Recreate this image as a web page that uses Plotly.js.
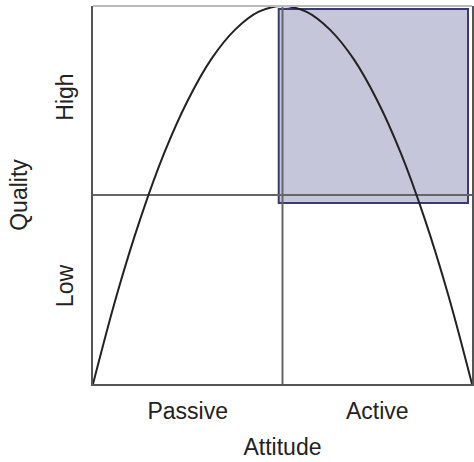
<!DOCTYPE html>
<html>
<head>
<meta charset="utf-8">
<script src="https://cdn.plot.ly/plotly-3.0.1.min.js"></script>
<style>html,body{margin:0;padding:0;background:#fff;}#chart{width:474px;height:462px;}</style>
</head>
<body>
<div id="chart"></div>
<script>
// Curve points (attitude vs quality)
const curveX = [0, 0.125, 0.25, 0.375, 0.5, 0.625, 0.75, 0.875, 1, 1.125, 1.25, 1.375, 1.5, 1.625, 1.75, 1.875, 2];
const curveY = [0, 0.47, 0.875, 1.22, 1.5, 1.72, 1.875, 1.97, 2, 1.97, 1.875, 1.72, 1.5, 1.22, 0.875, 0.47, 0];
// Axis category labels
const xTickVals = [0.5, 1.5];
const xTickText = ['Passive', 'Active'];
const yTickVals = [0.5, 1.5];
const yTickText = ['Low', 'High'];
// Divider positions and highlighted region
const xDivider = 1;
const yDivider = 1;
const boxX = [0.98, 1.979];
const boxY = [0.958, 1.984];

const font = {family: 'Liberation Sans, Arial, sans-serif', size: 23, color: '#222'};

Plotly.newPlot('chart', [{
  x: curveX, y: curveY, type: 'scatter', mode: 'lines',
  line: {color: '#222', width: 2, shape: 'spline', smoothing: 1},
  hoverinfo: 'none', showlegend: false
}], {
  width: 474, height: 462,
  margin: {l: 93, r: 2, t: 6, b: 78},
  paper_bgcolor: '#fff', plot_bgcolor: '#fff',
  font: font,
  xaxis: {
    range: [0, 2], showgrid: false, zeroline: false,
    showline: true, linecolor: '#555', linewidth: 2, mirror: false,
    tickvals: xTickVals, ticktext: xTickText, ticks: '', ticklabelstandoff: 5,
    tickfont: font,
    title: {text: 'Attitude', font: font, standoff: 16}
  },
  yaxis: {
    range: [0, 2], showgrid: false, zeroline: false,
    showline: true, linecolor: '#555', linewidth: 2, mirror: true,
    tickvals: yTickVals, ticktext: yTickText, ticks: '', tickangle: -90, ticklabelstandoff: 9,
    tickfont: font,
    title: {text: 'Quality', font: font, standoff: 18}
  },
  shapes: [
    {type: 'rect', layer: 'below', xref: 'x', yref: 'y', x0: boxX[0], x1: boxX[1], y0: boxY[0], y1: boxY[1],
     fillcolor: '#c6c6da', line: {color: '#3a3a6e', width: 2}},
    {type: 'line', layer: 'below', xref: 'x', yref: 'y', x0: xDivider, x1: xDivider, y0: 0, y1: 2,
     line: {color: '#666', width: 2}},
    {type: 'line', layer: 'below', xref: 'x', yref: 'y', x0: 0, x1: 2, y0: yDivider, y1: yDivider,
     line: {color: '#666', width: 2}},
    {type: 'line', layer: 'above', xref: 'paper', yref: 'paper', x0: 0, x1: 1, y0: 1, y1: 1,
     line: {color: '#bbb', width: 2}}
  ]
}, {displayModeBar: false, staticPlot: true});
</script>
</body>
</html>
